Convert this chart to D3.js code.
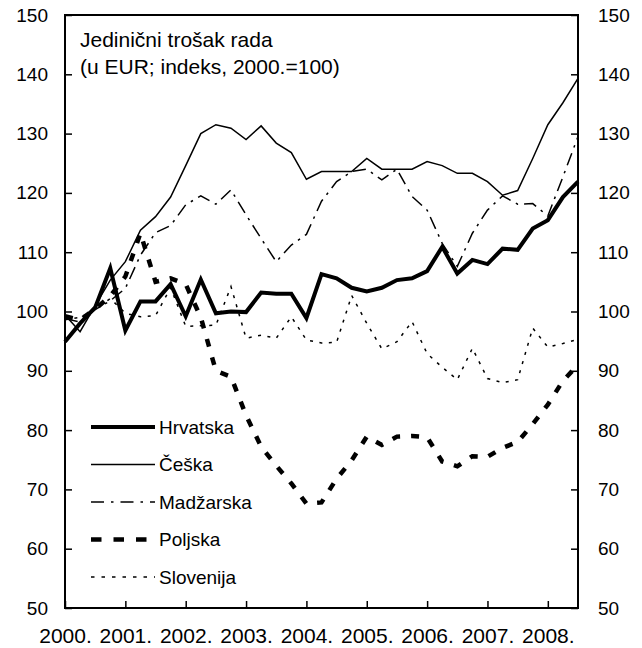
<!DOCTYPE html>
<html>
<head>
<meta charset="utf-8">
<script src="https://cdn.jsdelivr.net/npm/d3@7"></script>
<style>
    body { margin: 0; background: #fff; }
    svg { display: block; font-family: "Liberation Sans", Arial, sans-serif; }
    .line { fill: none; stroke: #000; }
</style>
</head>
<body>
<svg id="chart" width="642" height="648"></svg>
<script>
// quarterly data, 2000 Q1 .. 2008 Q3
const years = ['2000.', '2001.', '2002.', '2003.', '2004.', '2005.', '2006.', '2007.', '2008.'];
const yTicks = [50, 60, 70, 80, 90, 100, 110, 120, 130, 140, 150];

const hrvatska = [94.9, 98.0, 100.7, 107.3, 96.8, 101.7, 101.7, 104.6, 99.2, 105.4, 99.7, 100.0,
    99.9, 103.2, 103.0, 103.0, 98.9, 106.3, 105.6, 104.0, 103.4, 104.0, 105.3, 105.6,
    106.8, 110.9, 106.4, 108.7, 108.0, 110.6, 110.4, 114.0, 115.4, 119.3, 121.9];
const ceska = [99.4, 96.6, 101.0, 105.3, 108.4, 113.7, 116.0, 119.3, 124.6, 130.0, 131.5, 130.9,
    129.0, 131.3, 128.4, 126.8, 122.3, 123.6, 123.6, 123.6, 125.8, 124.0, 124.0, 124.0,
    125.3, 124.6, 123.3, 123.3, 121.9, 119.6, 120.4, 125.8, 131.5, 135.2, 139.3];
const madzarska = [98.8, 98.2, 100.3, 101.8, 103.9, 109.5, 113.3, 114.5, 118.0, 119.5, 118.1, 120.5,
    116.3, 112.3, 108.4, 111.2, 113.0, 118.6, 121.9, 123.6, 124.0, 122.2, 124.0, 119.4,
    117.1, 111.5, 107.6, 113.2, 117.1, 119.5, 118.1, 118.2, 116.1, 122.7, 129.5];
const poljska = [99.2, 98.6, 100.4, 102.6, 105.9, 113.2, 105.0, 105.6, 104.6, 99.0, 90.0, 89.0,
    82.5, 77.2, 74.0, 71.0, 67.6, 67.8, 71.8, 74.9, 78.9, 77.5, 78.9, 79.0,
    78.8, 74.7, 73.9, 75.6, 75.5, 77.0, 78.0, 81.0, 84.3, 88.3, 91.0];
const slovenija = [98.6, 99.0, 100.3, 102.2, 99.7, 99.1, 99.3, 104.0, 97.5, 97.6, 97.7, 104.2,
    95.5, 96.0, 95.5, 99.1, 95.2, 94.7, 94.8, 102.7, 98.0, 93.7, 94.9, 98.3,
    92.9, 90.6, 88.5, 93.8, 88.7, 88.0, 88.5, 97.2, 94.0, 94.6, 95.3];

const seriesNames = ['Hrvatska', 'Češka', 'Madžarska', 'Poljska', 'Slovenija'];

// quarter keys for the category axis
const quarters = [];
years.forEach(yr => {
    for (let q = 1; q <= 4; q++) {
        quarters.push(yr + 'Q' + q);
    }
});
quarters.length = hrvatska.length;

const styles = {
    'Hrvatska': {width: 4, dash: null, legendDash: null},
    'Češka': {width: 1.5, dash: null, legendDash: null},
    'Madžarska': {width: 1.5, dash: '13,6,2.5,6', legendDash: '13,7,2.5,7'},
    'Poljska': {width: 4.5, dash: '8,11', legendDash: '10.5,12'},
    'Slovenija': {width: 1.5, dash: '3,6.5', legendDash: '3.5,7'},
};

const series = [
    {name: 'Slovenija', values: slovenija},
    {name: 'Poljska', values: poljska},
    {name: 'Madžarska', values: madzarska},
    {name: 'Češka', values: ceska},
    {name: 'Hrvatska', values: hrvatska},
];

const svg = d3.select('#chart');
const plot = {left: 65, right: 578, top: 15, bottom: 608};

const x = d3.scalePoint()
    .domain(quarters)
    .range([plot.left, plot.right]);

const y = d3.scaleLinear()
    .domain([50, 150])
    .range([plot.bottom, plot.top]);

const line = d3.line()
    .x((d, i) => x(quarters[i]))
    .y(d => y(d));

// axes
const yearStarts = years.map(yr => yr + 'Q1');

svg.append('g')
    .attr('class', 'yaxis')
    .attr('transform', `translate(${plot.left},0)`)
    .call(d3.axisLeft(y).tickValues(yTicks).tickSize(-7).tickPadding(17))
    .call(g => g.select('.domain').remove());

svg.append('g')
    .attr('class', 'yaxis')
    .attr('transform', `translate(${plot.right},0)`)
    .call(d3.axisRight(y).tickValues(yTicks).tickSize(-7).tickPadding(20))
    .call(g => g.select('.domain').remove());

svg.append('g')
    .attr('class', 'xaxis')
    .attr('transform', `translate(0,${plot.bottom})`)
    .call(d3.axisBottom(x).tickValues(yearStarts).tickSize(-7).tickPadding(20)
        .tickFormat(d => d.slice(0, 5)))
    .call(g => g.select('.domain').remove());

svg.selectAll('.tick line')
    .attr('stroke', '#000')
    .attr('stroke-width', 1.5);

svg.selectAll('.tick text')
    .attr('fill', '#000')
    .style('font-family', '"Liberation Sans", Arial, sans-serif');
svg.selectAll('.yaxis .tick text').style('font-size', '19px');
svg.selectAll('.xaxis .tick text').style('font-size', '21px');

// frame
svg.append('rect')
    .attr('x', plot.left)
    .attr('y', plot.top)
    .attr('width', plot.right - plot.left)
    .attr('height', plot.bottom - plot.top)
    .attr('fill', 'none')
    .attr('stroke', '#000')
    .attr('stroke-width', 2);

// lines
svg.append('g')
    .selectAll('path')
    .data(series)
    .enter()
    .append('path')
    .classed('line', true)
    .attr('d', d => line(d.values))
    .attr('stroke-width', d => styles[d.name].width)
    .attr('stroke-dasharray', d => styles[d.name].dash)
    .attr('stroke-linejoin', 'miter');

// title
const title = svg.append('text')
    .attr('x', 80)
    .attr('y', 47)
    .style('font-size', '21px');
title.append('tspan').attr('x', 80).text('Jedinični trošak rada');
title.append('tspan').attr('x', 80).attr('y', 74).text('(u EUR; indeks, 2000.=100)');

// legend
const legendY = d3.scalePoint()
    .domain(seriesNames)
    .range([427, 577]);

const legend = svg.append('g')
    .selectAll('g')
    .data(seriesNames)
    .enter()
    .append('g')
    .attr('transform', d => `translate(0,${legendY(d)})`);

legend.append('line')
    .attr('x1', 91)
    .attr('x2', 155)
    .attr('stroke', '#000')
    .attr('stroke-width', d => styles[d].width)
    .attr('stroke-dasharray', d => styles[d].legendDash);

legend.append('text')
    .attr('x', 159)
    .attr('dy', '0.35em')
    .style('font-size', '19px')
    .text(d => d);
</script>
</body>
</html>
